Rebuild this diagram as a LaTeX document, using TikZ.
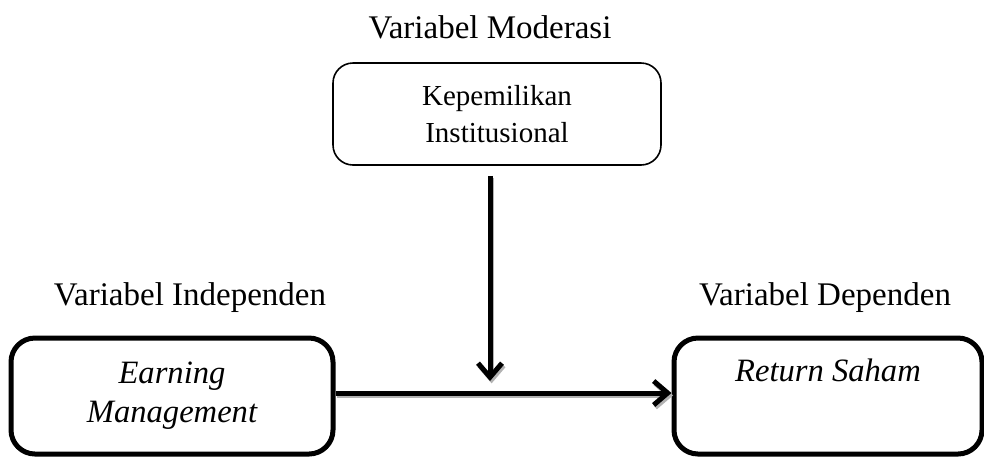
\documentclass[tikz,border=0pt]{standalone}
\usepackage{fontspec}
\setmainfont{Liberation Serif}
\usetikzlibrary{arrows.meta,positioning}

\begin{document}
\begin{tikzpicture}[x=0.5pt, y=-0.5pt, >={Straight Barb[length=7pt,width=12pt]}]
	\tikzset{
		varbox/.style={draw, line width=2.5pt, rounded corners=12pt, minimum height=58pt, align=center, font=\fontsize{16.3}{19.5}\selectfont\itshape},
		modbox/.style={draw, line width=0.8pt, rounded corners=10pt, minimum width=164pt, minimum height=51pt, align=center, font=\fontsize{14.5}{18.5}\selectfont},
		vartitle/.style={font=\fontsize{16.5}{18}\selectfont},
		flow/.style={->, line width=2.5pt, preaction={draw=gray!60, line width=2.5pt, transform canvas={shift={(0.8pt,-1.2pt)}}}}
	}
	\useasboundingbox (0,0) rectangle (984,457);

	% Moderasi
	\node[modbox] (inst) at (497,114) {Kepemilikan\\Institusional};
	\node[vartitle] (tmod) at (490,27) {Variabel Moderasi};

	% Independen en dependen
	\node[varbox, minimum width=161pt] (em) at (172,396) {Earning\\Management};
	\node[vartitle] (tind) at (190,298) {Variabel Independen};
	\node[varbox, minimum width=154pt] (rs) at (828,396) {Return Saham\\\strut};
	\node[vartitle] (tdep) at (825,298) {Variabel Dependen};

	% Pijlen
	\coordinate (join) at (490,393);
	\draw[flow] (em.east |- join) -- (rs.west |- join);
	\draw[flow] ([yshift=-5pt]inst.south -| join) -- ([yshift=6pt]join);
\end{tikzpicture}
\end{document}
